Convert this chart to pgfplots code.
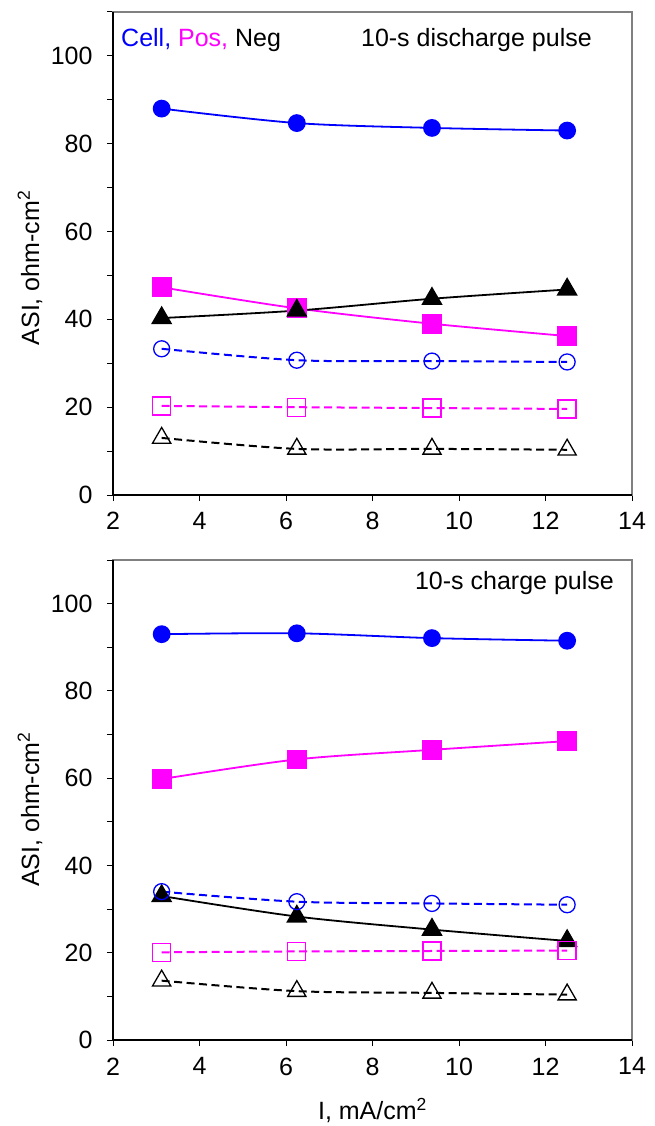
\documentclass[border=0pt]{standalone}
\usepackage{pgfplots}
\pgfplotsset{compat=1.18}
\usepackage{fontspec}
\setmainfont{Liberation Sans}
\definecolor{cblue}{rgb}{0,0,1}
\definecolor{cmag}{rgb}{1,0,1}
\definecolor{frame}{gray}{0.5}
\pgfplotsset{
  myaxis/.style={
    scale only axis, width=519pt,
    xmin=2, xmax=14, ymin=0, ymax=110,
    xtick={2,4,...,14}, ytick={0,20,...,100}, minor ytick={10,30,...,110},
    tick align=outside, xtick pos=bottom, ytick pos=left,
    major tick length=6pt, minor tick length=6pt,
    every tick/.style={black, line width=1pt},
    axis line style={frame, line width=2pt},
    /pgf/number format/assume math mode=true,
    tick label style={font=\fontsize{25}{29}\selectfont},
    yticklabel style={xshift=-11pt},
    xticklabel style={yshift=-8pt},
    label style={font=\fontsize{25}{29}\selectfont},
    clip=false,
    after end axis/.code={\draw[black,line width=1.5pt] (rel axis cs:0,1) -- (rel axis cs:0,0) -- (rel axis cs:1,0);},
  },
  sol/.style={line width=1.8pt, smooth, tension=0.5},
  dsh/.style={line width=2pt, smooth, tension=0.5, dash pattern=on 8pt off 4.5pt},
}
\begin{document}
\begin{tikzpicture}[font=\fontsize{25}{29}\selectfont]
\path[use as bounding box] (0,0) rectangle (654pt,-1126pt);
\begin{axis}[myaxis, height=483pt, at={(113pt,-12pt)}, anchor=north west,
  ylabel={ASI, ohm-cm\textsuperscript{2}},
  every axis y label/.style={at={(axis description cs:0,0.47)}, xshift=-83pt, rotate=90, anchor=center}]
\addplot[sol, cblue, mark=*, mark size=8pt] coordinates {(3.125,88.0)(6.25,84.7)(9.375,83.6)(12.5,83.0)};
\addplot[sol, cmag, mark=square*, mark size=9pt] coordinates {(3.125,47.3)(6.25,42.5)(9.375,39.0)(12.5,36.2)};
\addplot[sol, black, mark=triangle*, mark size=10.5pt] coordinates {(3.125,40.3)(6.25,42.0)(9.375,44.7)(12.5,46.8)};
\addplot[dsh, cblue, mark=o, mark size=8pt, mark options={solid, line width=1.3pt}] coordinates {(3.125,33.3)(6.25,30.7)(9.375,30.5)(12.5,30.3)};
\addplot[dsh, cmag, mark=square, mark size=9pt, mark options={solid, line width=1.3pt}] coordinates {(3.125,20.3)(6.25,20.0)(9.375,19.8)(12.5,19.6)};
\addplot[dsh, black, mark=triangle, mark size=10.5pt, mark options={solid, line width=1.3pt}] coordinates {(3.125,13.0)(6.25,10.5)(9.375,10.5)(12.5,10.3)};
\end{axis}
\begin{axis}[myaxis, height=480pt, at={(113pt,-560pt)}, anchor=north west,
  ylabel={ASI, ohm-cm\textsuperscript{2}},
  xlabel={I, mA/cm\textsuperscript{2}},
  every axis y label/.style={at={(axis description cs:0,0.48)}, xshift=-83pt, rotate=90, anchor=center},
  every axis x label/.style={at={(axis description cs:0.5,0)}, anchor=center, yshift=-70pt}]
\addplot[sol, cblue, mark=*, mark size=8pt] coordinates {(3.125,93.0)(6.25,93.2)(9.375,92.1)(12.5,91.5)};
\addplot[sol, cmag, mark=square*, mark size=9pt] coordinates {(3.125,59.8)(6.25,64.3)(9.375,66.5)(12.5,68.5)};
\addplot[sol, black, mark=triangle*, mark size=10.5pt] coordinates {(3.125,33.0)(6.25,28.3)(9.375,25.3)(12.5,22.7)};
\addplot[dsh, cblue, mark=o, mark size=8pt, mark options={solid, line width=1.3pt}] coordinates {(3.125,34.0)(6.25,31.7)(9.375,31.3)(12.5,31.0)};
\addplot[dsh, cmag, mark=square, mark size=9pt, mark options={solid, line width=1.3pt}] coordinates {(3.125,20.1)(6.25,20.3)(9.375,20.4)(12.5,20.5)};
\addplot[dsh, black, mark=triangle, mark size=10.5pt, mark options={solid, line width=1.3pt}] coordinates {(3.125,13.6)(6.25,11.2)(9.375,10.8)(12.5,10.4)};
\end{axis}
\node[anchor=west, inner sep=0pt] at (121pt,-40pt) {\textcolor{cblue}{Cell,} \textcolor{cmag}{Pos,} Neg};
\node[anchor=east, inner sep=0pt] at (592pt,-40pt) {10-s discharge pulse};
\node[anchor=east, inner sep=0pt] at (614pt,-583pt) {10-s charge pulse};
\end{tikzpicture}
\end{document}
